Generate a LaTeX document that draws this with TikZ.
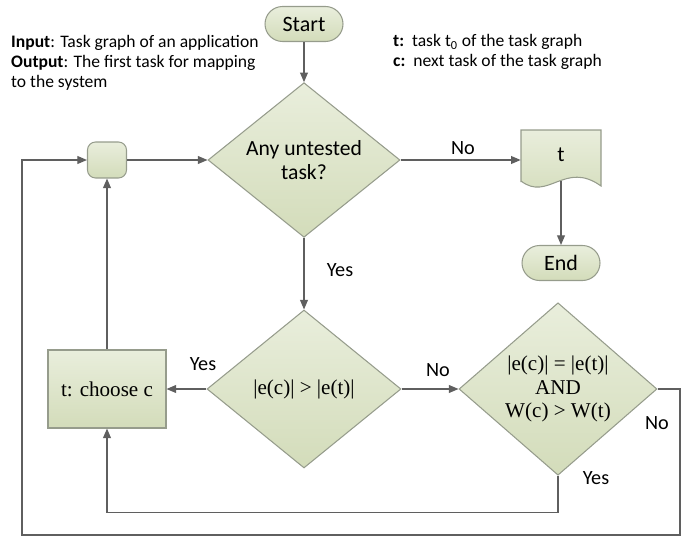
\documentclass[tikz,border=0pt]{standalone}
\usepackage{fontspec}
\setmainfont{Carlito}
\newfontfamily\serifbox{Liberation Serif}
\usetikzlibrary{arrows.meta, shapes.geometric, calc}
\definecolor{boxtop}{RGB}{233,238,220}
\definecolor{boxbottom}{RGB}{211,220,186}
\definecolor{boxline}{RGB}{150,156,140}
\definecolor{flowline}{RGB}{95,95,95}

\begin{document}
\begin{tikzpicture}[x=0.02cm, y=-0.02cm,
  shadebox/.style={draw=boxline, top color=boxtop, bottom color=boxbottom, line width=0.6pt},
  terminal/.style={shadebox, rectangle, rounded corners=0.35cm, minimum width=1.56cm, minimum height=0.7cm, font=\fontsize{12.5}{14}\selectfont},
  decision/.style={shadebox, diamond, inner sep=0pt, align=center},
  process/.style={shadebox, rectangle, font=\serifbox\fontsize{12}{14}\selectfont},
  flow/.style={draw=flowline, line width=0.7pt},
  arr/.style={flow, -{Triangle[length=5.5pt,width=4.5pt]}},
  lbl/.style={font=\fontsize{11.5}{13}\selectfont}]
  \useasboundingbox (0,0) rectangle (692,537);

  % notes on top
  \node[anchor=west, align=left, font=\fontsize{10}{11.4}\selectfont] (io) at (5,63)
    {\textbf{Input}: Task graph of an application\\ \textbf{Output}: The first task for mapping\\ to the system};
  \node[anchor=west, align=left, font=\fontsize{10}{11.4}\selectfont] (legend) at (387,52)
    {\textbf{t:}\ \ task t\textsubscript{0} of the task graph\\ \textbf{c:}\ \ next task of the task graph};

  % blocks
  \node[terminal] (start) at (304,24) {Start};
  \node[decision, minimum width=3.84cm, minimum height=2.88cm, font=\fontsize{12.3}{13.5}\selectfont] (q1) at (304,160) {Any untested\\task?};
  \node[shadebox, rectangle, rounded corners=0.16cm, minimum width=0.78cm, minimum height=0.72cm] (merge) at (107,160) {};
  \draw[shadebox] (521,182) -- (521,130) -- (601,130) -- (601,186) .. controls (565,160) and (548,202) .. (521,181) -- cycle;
  \node[minimum width=1.6cm, minimum height=1.04cm, font=\fontsize{12.3}{13.5}\selectfont] (doc) at (561,155) {t};
  \node[terminal] (end) at (561,263) {End};
  \node[decision, minimum width=3.88cm, minimum height=3.16cm, font=\serifbox\fontsize{12}{14}\selectfont] (q2) at (304,389) {|e(c)| > |e(t)|};
  \node[decision, minimum width=3.96cm, minimum height=3.12cm, font=\serifbox\fontsize{12}{13.6}\selectfont] (q3) at (558,389) {|e(c)| = |e(t)|\\AND\\W(c) > W(t)};
  \node[process, minimum width=2.36cm, minimum height=1.56cm] (choose) at (107,389) {t: choose c};

  % connectors
  \draw[arr] (start) -- (q1);
  \draw[arr] (q1.east) -- (q1.east -| doc.west);
  \draw[arr] (doc.south) -- (end);
  \draw[arr] (q1) -- (q2);
  \draw[arr] (q2) -- (choose);
  \draw[arr] (q2) -- (q3);
  \draw[arr] (choose) -- (merge);
  \draw[arr] (merge) -- (q1);
  \draw[arr] (q3.south) -- ++(0,37) -| (choose.south);
  \coordinate (loopR) at (680,535);
  \coordinate (loopL) at (22,535);
  \draw[arr] (q3.east) -| (loopR) -- (loopL) |- (merge.west);

  % branch labels
  \node[lbl] (no1) at (463,148) {No};
  \node[lbl] (yes1) at (340,270) {Yes};
  \node[lbl] (yes2) at (203,364) {Yes};
  \node[lbl] (no2) at (438,370) {No};
  \node[lbl] (no3) at (657,423) {No};
  \node[lbl] (yes3) at (596,478) {Yes};
\end{tikzpicture}
\end{document}
